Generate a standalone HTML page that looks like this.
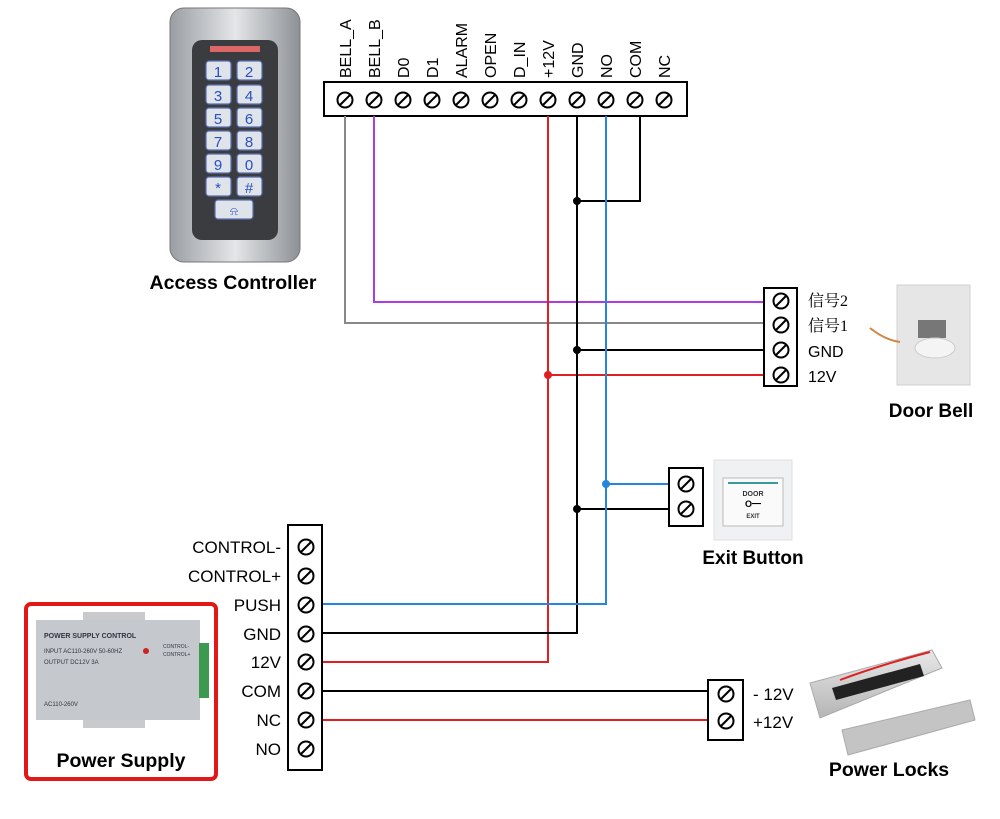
<!DOCTYPE html>
<html><head><meta charset="utf-8"><style>
html,body{margin:0;padding:0;background:#fff}
svg{display:block}
text{font-family:"Liberation Sans","Noto Sans CJK SC",sans-serif}
</style></head><body>
<svg width="1000" height="819" viewBox="0 0 1000 819" xmlns="http://www.w3.org/2000/svg">
<defs>
<g id="s"><circle r="7.5" fill="#fff" stroke="#000" stroke-width="2"/><line x1="-5" y1="5" x2="5" y2="-5" stroke="#000" stroke-width="2"/></g>
<linearGradient id="sil" x1="0" x2="1"><stop offset="0" stop-color="#9a9ea3"/><stop offset=".5" stop-color="#e4e6e8"/><stop offset="1" stop-color="#8d9196"/></linearGradient>
<linearGradient id="alu" x1="0" y1="0" x2="0" y2="1"><stop offset="0" stop-color="#e8e8e8"/><stop offset="1" stop-color="#b5b5b5"/></linearGradient>
</defs>

<!-- Keypad -->
<rect x="170" y="8" width="130" height="254" rx="14" fill="url(#sil)" stroke="#777"/>
<rect x="192" y="40" width="86" height="200" rx="10" fill="#3a3c40"/>
<rect x="210" y="46" width="50" height="6" fill="#d66"/>
<g fill="#dfe3ea" stroke="#5a6fb0" stroke-width="1.2">
<rect x="206" y="61" width="25" height="19" rx="3"/><rect x="237" y="61" width="25" height="19" rx="3"/>
<rect x="206" y="85" width="25" height="19" rx="3"/><rect x="237" y="85" width="25" height="19" rx="3"/>
<rect x="206" y="108" width="25" height="19" rx="3"/><rect x="237" y="108" width="25" height="19" rx="3"/>
<rect x="206" y="131" width="25" height="19" rx="3"/><rect x="237" y="131" width="25" height="19" rx="3"/>
<rect x="206" y="154" width="25" height="19" rx="3"/><rect x="237" y="154" width="25" height="19" rx="3"/>
<rect x="206" y="177" width="25" height="19" rx="3"/><rect x="237" y="177" width="25" height="19" rx="3"/>
<rect x="215" y="200" width="38" height="19" rx="3"/>
</g>
<g fill="#2b4fc0" font-size="15" text-anchor="middle">
<text x="218" y="77">1</text><text x="249" y="77">2</text>
<text x="218" y="101">3</text><text x="249" y="101">4</text>
<text x="218" y="124">5</text><text x="249" y="124">6</text>
<text x="218" y="147">7</text><text x="249" y="147">8</text>
<text x="218" y="170">9</text><text x="249" y="170">0</text>
<text x="218" y="193">*</text><text x="249" y="193">#</text>
<text x="234" y="215" font-size="12">⍾</text>
</g>
<text x="233" y="289" font-size="19.5" font-weight="bold" text-anchor="middle">Access Controller</text>

<!-- Top terminal -->
<rect x="324" y="82" width="363" height="34" fill="#fff" stroke="#000" stroke-width="2"/>
<g font-size="16">
<text transform="translate(351,78) rotate(-90)">BELL_A</text>
<text transform="translate(380,78) rotate(-90)">BELL_B</text>
<text transform="translate(409,78) rotate(-90)">D0</text>
<text transform="translate(438,78) rotate(-90)">D1</text>
<text transform="translate(467,78) rotate(-90)">ALARM</text>
<text transform="translate(496,78) rotate(-90)">OPEN</text>
<text transform="translate(525,78) rotate(-90)">D_IN</text>
<text transform="translate(554,78) rotate(-90)">+12V</text>
<text transform="translate(583,78) rotate(-90)">GND</text>
<text transform="translate(612,78) rotate(-90)">NO</text>
<text transform="translate(641,78) rotate(-90)">COM</text>
<text transform="translate(670,78) rotate(-90)">NC</text>
</g>

<!-- wires -->
<g fill="none" stroke-width="2">
<polyline points="345,116 345,323 765,323" stroke="#888"/>
<polyline points="374,116 374,302 765,302" stroke="#b03adf"/>
<polyline points="548,116 548,662 322,662" stroke="#e02020"/>
<line x1="548" y1="375" x2="765" y2="375" stroke="#e02020"/>
<polyline points="577,116 577,633 322,633" stroke="#000"/>
<polyline points="640,116 640,201 577,201" stroke="#000"/>
<line x1="577" y1="350" x2="765" y2="350" stroke="#000"/>
<line x1="577" y1="509" x2="670" y2="509" stroke="#000"/>
<polyline points="606,116 606,604 322,604" stroke="#2585e0"/>
<line x1="606" y1="484" x2="670" y2="484" stroke="#2585e0"/>
<line x1="322" y1="691" x2="708" y2="691" stroke="#000"/>
<line x1="322" y1="720" x2="708" y2="720" stroke="#e02020"/>
</g>
<circle cx="577" cy="201" r="4"/><circle cx="577" cy="350" r="4"/><circle cx="577" cy="509" r="4"/>
<circle cx="548" cy="375" r="4" fill="#e02020"/><circle cx="606" cy="484" r="4" fill="#2585e0"/>

<g>
<use href="#s" x="345" y="100"/><use href="#s" x="374" y="100"/><use href="#s" x="403" y="100"/><use href="#s" x="432" y="100"/>
<use href="#s" x="461" y="100"/><use href="#s" x="490" y="100"/><use href="#s" x="519" y="100"/><use href="#s" x="548" y="100"/>
<use href="#s" x="577" y="100"/><use href="#s" x="606" y="100"/><use href="#s" x="635" y="100"/><use href="#s" x="664" y="100"/>
</g>

<!-- Door bell terminal -->
<rect x="764" y="288" width="33" height="98" fill="#fff" stroke="#000" stroke-width="2"/>
<use href="#s" x="781" y="301"/><use href="#s" x="781" y="325"/><use href="#s" x="781" y="350"/><use href="#s" x="781" y="375"/>
<g font-size="16"><text x="808" y="306" style="font-family:'Liberation Serif','Noto Serif CJK SC',serif">信号2</text><text x="808" y="331" style="font-family:'Liberation Serif','Noto Serif CJK SC',serif">信号1</text><text x="808" y="357">GND</text><text x="808" y="382">12V</text></g>
<rect x="897" y="285" width="73" height="100" fill="#e6e6e6" stroke="#d0d0d0"/>
<rect x="918" y="320" width="28" height="18" fill="#777"/>
<ellipse cx="935" cy="348" rx="20" ry="10" fill="#f4f4f4" stroke="#ccc"/>
<path d="M870 328 Q885 340 900 342" stroke="#c84" fill="none" stroke-width="2"/>
<text x="931" y="417" font-size="19" font-weight="bold" text-anchor="middle">Door Bell</text>

<!-- Exit button -->
<rect x="669" y="468" width="34" height="58" fill="#fff" stroke="#000" stroke-width="2"/>
<use href="#s" x="686" y="484"/><use href="#s" x="686" y="509"/>
<rect x="714" y="460" width="78" height="80" fill="#f0f1f3" stroke="#e0e0e0"/>
<rect x="723" y="478" width="60" height="48" fill="#fafafa" stroke="#bbb"/>
<line x1="728" y1="483" x2="778" y2="483" stroke="#3a9aa0" stroke-width="2"/>
<text x="753" y="496" font-size="7" font-weight="bold" text-anchor="middle" fill="#333">DOOR</text>
<text x="753" y="507" font-size="9" font-weight="bold" text-anchor="middle">O━</text>
<text x="753" y="518" font-size="6" font-weight="bold" text-anchor="middle" fill="#333">EXIT</text>
<text x="753" y="564" font-size="19" font-weight="bold" text-anchor="middle">Exit Button</text>

<!-- PS terminal -->
<rect x="288" y="525" width="34" height="245" fill="#fff" stroke="#000" stroke-width="2"/>
<use href="#s" x="306" y="547"/><use href="#s" x="306" y="576"/><use href="#s" x="306" y="605"/><use href="#s" x="306" y="634"/>
<use href="#s" x="306" y="662"/><use href="#s" x="306" y="691"/><use href="#s" x="306" y="720"/><use href="#s" x="306" y="749"/>
<g font-size="17" text-anchor="end">
<text x="281" y="553">CONTROL-</text><text x="281" y="582">CONTROL+</text><text x="281" y="611">PUSH</text><text x="281" y="640">GND</text>
<text x="281" y="668">12V</text><text x="281" y="697">COM</text><text x="281" y="726">NC</text><text x="281" y="755">NO</text>
</g>

<!-- Power supply -->
<rect x="26" y="604" width="190" height="175" rx="5" fill="#fff" stroke="#e01818" stroke-width="4"/>
<rect x="83" y="612" width="62" height="12" fill="#c8cacc"/>
<rect x="83" y="716" width="62" height="12" fill="#c8cacc"/>
<rect x="36" y="620" width="164" height="100" fill="#c5c8cc"/>
<rect x="199" y="643" width="10" height="55" fill="#3c9a50"/>
<circle cx="146" cy="651" r="3" fill="#c22"/>
<g font-size="6" fill="#334">
<text x="44" y="638" font-weight="bold" font-size="7">POWER SUPPLY CONTROL</text>
<text x="44" y="653">INPUT AC110-260V 50-60HZ</text><text x="44" y="664">OUTPUT DC12V 3A</text>
<text x="44" y="706">AC110-260V</text>
<text x="163" y="648" font-size="5">CONTROL-</text><text x="163" y="656" font-size="5">CONTROL+</text>
</g>
<text x="121" y="767" font-size="19.5" font-weight="bold" text-anchor="middle">Power Supply</text>

<!-- Lock terminal -->
<rect x="708" y="680" width="35" height="60" fill="#fff" stroke="#000" stroke-width="2"/>
<use href="#s" x="726" y="694"/><use href="#s" x="726" y="721"/>
<g font-size="17"><text x="753" y="700">- 12V</text><text x="753" y="728">+12V</text></g>
<polygon points="810,683 932,650 942,668 820,718" fill="url(#alu)" stroke="#aaa"/>
<polygon points="832,688 920,664 924,676 836,700" fill="#222"/>
<polygon points="842,730 970,700 975,720 848,755" fill="#c4c4c4" stroke="#aaa"/>
<path d="M840 680 Q880 665 930 652" stroke="#d22" stroke-width="2" fill="none"/>
<text x="889" y="776" font-size="19.5" font-weight="bold" text-anchor="middle">Power Locks</text>
</svg>
</body></html>
